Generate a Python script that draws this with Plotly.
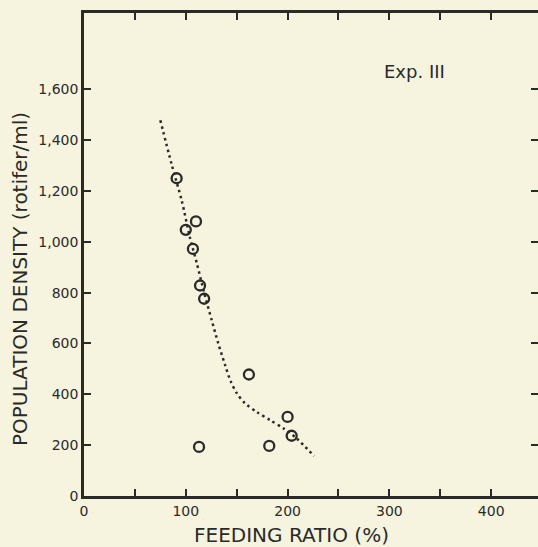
import plotly.graph_objects as go

# Observed data points (feeding ratio %, population density rotifer/ml)
feeding_ratio = [91, 100, 110, 107, 114, 118, 162, 200, 204, 182, 113]
density = [1250, 1047, 1080, 972, 828, 776, 478, 311, 237, 197, 193]

# Dotted trend curve
curve_x = [75, 86, 96, 104, 111, 118, 125.5, 132, 138.6, 144, 150, 158, 170, 183, 196, 209, 226]
curve_y = [1478, 1306, 1162, 1018, 913, 800, 691, 599, 515, 452, 405, 365, 330, 298, 266, 226, 157]

x_tickvals = [0, 50, 100, 150, 200, 250, 300, 350, 400]
x_ticktext = ["0", "", "100", "", "200", "", "300", "", "400"]
y_tickvals = [0, 200, 400, 600, 800, 1000, 1200, 1400, 1600]
y_ticktext = ["0", "200", "400", "600", "800", "1,000", "1,200", "1,400", "1,600"]

ink = "#2a2a28"
paper = "#f6f4df"
font_family = "DejaVu Sans"

fig = go.Figure()
fig.add_trace(go.Scatter(
    x=curve_x, y=curve_y, mode="lines", line_shape="spline",
    line=dict(color=ink, width=2.5, dash="2.5px,3.5px", smoothing=0.8), hoverinfo="skip",
))
fig.add_trace(go.Scatter(
    x=feeding_ratio, y=density, mode="markers",
    marker=dict(symbol="circle-open", size=10, color=ink, line=dict(width=2.3, color=ink)),
))
# invisible trace to activate right-side tick axis
fig.add_trace(go.Scatter(x=[0], y=[0], yaxis="y2", mode="markers",
                         marker=dict(opacity=0), hoverinfo="skip"))

fig.update_layout(
    width=538, height=547,
    margin=dict(l=84, r=0, t=13, b=51),
    paper_bgcolor=paper, plot_bgcolor=paper,
    showlegend=False,
    font=dict(family=font_family, color=ink, size=14),
    xaxis=dict(
        range=[0, 446], tickvals=x_tickvals, ticktext=x_ticktext,
        ticks="inside", ticklen=7, tickwidth=2, tickcolor=ink,
        showline=True, linecolor=ink, linewidth=2.5, mirror="ticks",
        showgrid=False, zeroline=False, tickfont=dict(size=14, color=ink),
    ),
    yaxis=dict(
        range=[0, 1900], tickvals=y_tickvals, ticktext=y_ticktext,
        ticks="inside", ticklen=7, tickwidth=2, tickcolor=ink,
        showline=True, linecolor=ink, linewidth=2.5, mirror=False,
        showgrid=False, zeroline=False, tickfont=dict(size=14, color=ink),
    ),
    yaxis2=dict(
        range=[0, 1900], overlaying="y", side="right", tickvals=y_tickvals,
        ticks="inside", ticklen=7, tickwidth=2, tickcolor=ink,
        showticklabels=False, showline=False, showgrid=False, zeroline=False,
    ),
    annotations=[
        dict(text="FEEDING RATIO (%)", xref="paper", yref="paper",
             x=(291 - 84) / 454, y=-(535 - 496) / 483, xanchor="center", yanchor="middle",
             showarrow=False, font=dict(size=20, color=ink, family=font_family)),
        dict(text="POPULATION DENSITY (rotifer/ml)", xref="paper", yref="paper",
             x=-(84 - 20) / 454, y=(496 - 279) / 483, xanchor="center", yanchor="middle",
             textangle=-90, showarrow=False,
             font=dict(size=20, color=ink, family=font_family)),
        dict(text="Exp. III", xref="paper", yref="paper",
             x=(414 - 84) / 454, y=(496 - 71) / 483, xanchor="center", yanchor="middle",
             showarrow=False, font=dict(size=18, color=ink, family=font_family)),
    ],
)

fig.write_html(
    "out.html",
    config={"displayModeBar": False},
    post_script="document.body.style.margin='0';document.body.style.background='" + paper + "';",
)
